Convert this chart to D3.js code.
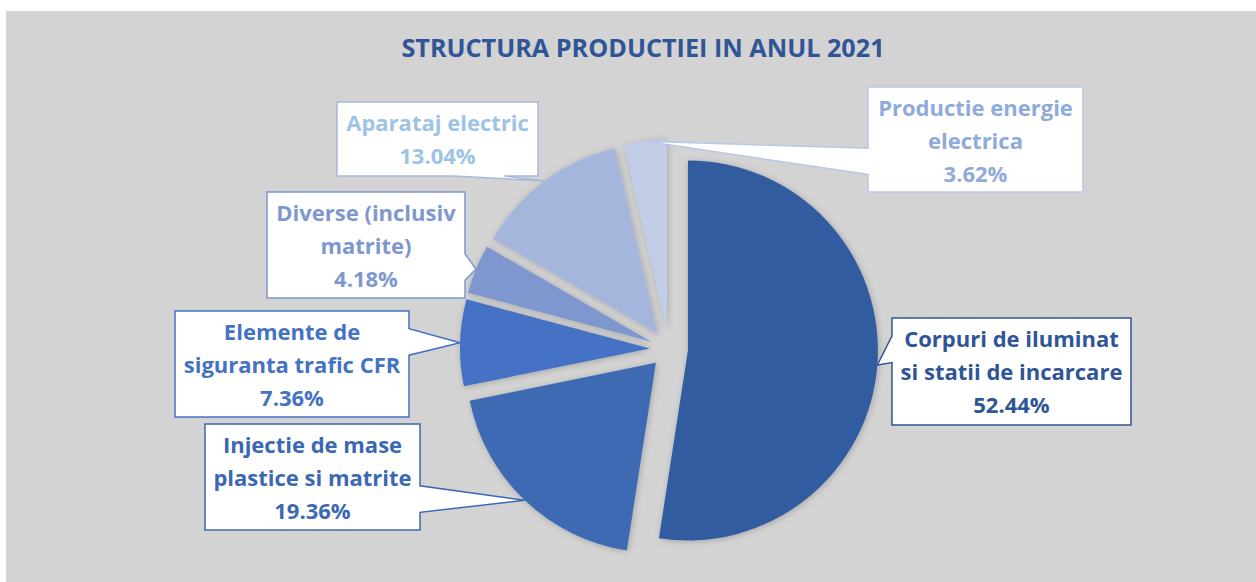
<!DOCTYPE html>
<meta charset="utf-8">
<style>
body { margin: 0; background: #fff; }
text { font-family: "Open Sans", "Noto Sans", sans-serif; font-weight: 700; }
</style>
<body>
<script src="https://d3js.org/d3.v7.min.js"></script>
<script>
// data
const categories = ["Corpuri de iluminat si statii de incarcare", "Injectie de mase plastice si matrite",
  "Elemente de siguranta trafic CFR", "Diverse (inclusiv matrite)", "Aparataj electric", "Productie energie electrica"];
const shares = [52.44, 19.36, 7.36, 4.18, 13.04, 3.62];
const labelLines = [
  ["Corpuri de iluminat", "si statii de incarcare"],
  ["Injectie de mase", "plastice si matrite"],
  ["Elemente de", "siguranta trafic CFR"],
  ["Diverse (inclusiv", "matrite)"],
  ["Aparataj electric"],
  ["Productie energie", "electrica"]
];
const title = "STRUCTURA PRODUCTIEI IN ANUL 2021";

// colours
const fills = ["#335ca0", "#3e6ab2", "#4472c4", "#7f97cf", "#a6b5db", "#c2cde8"];
const textColors = ["#2f5597", "#3b68b4", "#4472c4", "#7f97cf", "#9dc3e6", "#8faadc"];
const borderColors = ["#2f5597", "#3b68b4", "#4472c4", "#7f97cf", "#a9b9dd", "#b9c7e6"];

// label boxes were placed by hand in the original
const boxes = [
  {x: 892, y: 318, w: 239, h: 107},
  {x: 205, y: 424, w: 215, h: 106},
  {x: 175, y: 311, w: 234, h: 106},
  {x: 267, y: 192, w: 198, h: 106},
  {x: 337, y: 102, w: 201, h: 74},
  {x: 868, y: 87, w: 215, h: 105}
];

var W = 1256, H = 582;
var cx = 669, cy = 349, radius = 190, explode = 19;

var svg = d3.select("body").append("svg")
    .attr("width", W)
    .attr("height", H);

var defs = svg.append("defs");
var f = defs.append("filter").attr("id", "shadow")
    .attr("x", "-20%").attr("y", "-20%").attr("width", "140%").attr("height", "140%");
f.append("feDropShadow").attr("dx", 1).attr("dy", 1).attr("stdDeviation", 3)
    .attr("flood-color", "#000").attr("flood-opacity", 0.22);

// chart area
svg.append("rect").attr("x", 6).attr("y", 11)
    .attr("width", W - 6).attr("height", H - 11)
    .attr("fill", "#d3d3d3");

svg.append("text")
    .attr("x", 643).attr("y", 57)
    .attr("text-anchor", "middle")
    .attr("font-size", 25.2)
    .attr("fill", "#2f5597")
    .text(title);

var pie = d3.pie().sort(null).value(function(d) { return d; });
var arcs = pie(shares);
var arc = d3.arc().innerRadius(0).outerRadius(radius);

function mid(d) { return (d.startAngle + d.endAngle) / 2; }
function offset(d) {
  var a = mid(d);
  return [cx + explode * Math.sin(a), cy - explode * Math.cos(a)];
}

svg.append("g").selectAll("path")
  .data(arcs)
  .enter().append("path")
    .attr("transform", function(d) { var o = offset(d); return "translate(" + o[0] + "," + o[1] + ")"; })
    .attr("d", arc)
    .attr("fill", function(d, i) { return fills[i]; })
    .attr("filter", "url(#shadow)");

// wedge callout like Excel's wedgeRectCallout
function calloutPath(b, tip) {
  var bx = b.x + b.w / 2, by = b.y + b.h / 2;
  var dx = tip[0] - bx, dy = tip[1] - by;
  var vertical = Math.abs(dy) * b.w > Math.abs(dx) * b.h;
  var gx = dx > 0 ? [7, 10] : [2, 5];
  var gy = dy > 0 ? [7, 10] : [2, 5];
  var x0 = b.x, x1 = b.x + b.w, y0 = b.y, y1 = b.y + b.h;
  var pts = [[x0, y0]];
  if (vertical && dy < 0) pts.push([x0 + b.w * gx[0] / 12, y0], tip, [x0 + b.w * gx[1] / 12, y0]);
  pts.push([x1, y0]);
  if (!vertical && dx > 0) pts.push([x1, y0 + b.h * gy[0] / 12], tip, [x1, y0 + b.h * gy[1] / 12]);
  pts.push([x1, y1]);
  if (vertical && dy > 0) pts.push([x0 + b.w * gx[1] / 12, y1], tip, [x0 + b.w * gx[0] / 12, y1]);
  pts.push([x0, y1]);
  if (!vertical && dx < 0) pts.push([x0, y0 + b.h * gy[1] / 12], tip, [x0, y0 + b.h * gy[0] / 12]);
  return "M" + pts.join("L") + "Z";
}

var labels = svg.append("g").selectAll("g")
  .data(arcs)
  .enter().append("g");

labels.append("path")
    .attr("d", function(d, i) {
      var o = offset(d), a = mid(d);
      var tip = [o[0] + radius * Math.sin(a), o[1] - radius * Math.cos(a)];
      return calloutPath(boxes[i], tip);
    })
    .attr("fill", "#fff")
    .attr("stroke", function(d, i) { return borderColors[i]; })
    .attr("stroke-width", 1.5)
    .attr("stroke-linejoin", "miter");

labels.each(function(d, i) {
  var b = boxes[i];
  var lines = labelLines[i].concat([d3.format(".2f")(shares[i]) + "%"]);
  var t = d3.select(this).append("text")
      .attr("text-anchor", "middle")
      .attr("font-size", 22)
      .attr("fill", textColors[i]);
  lines.forEach(function(s, k) {
    t.append("tspan")
      .attr("x", b.x + b.w / 2)
      .attr("y", b.y + 29 + 33 * k)
      .text(s);
  });
});
</script>
</body>
